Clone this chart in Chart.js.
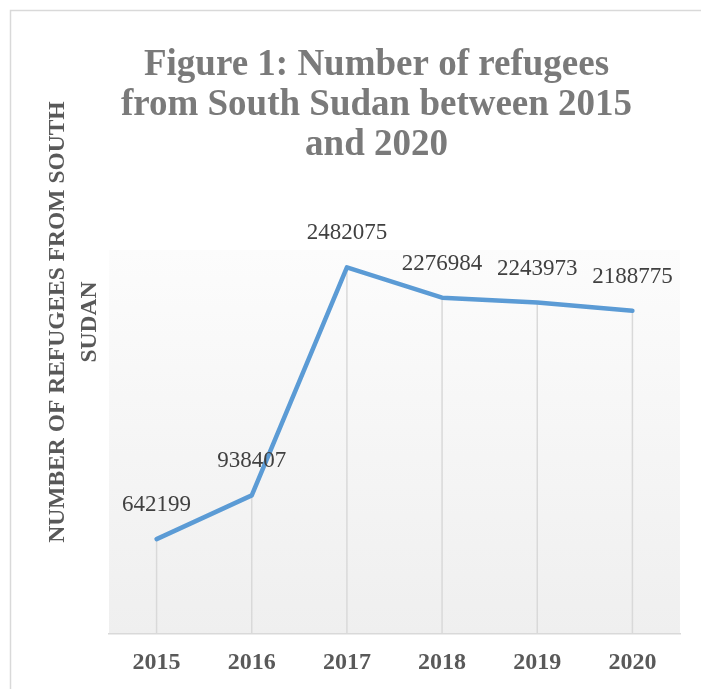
<!DOCTYPE html>
<html>
<head>
<meta charset="utf-8">
<script src="https://cdn.jsdelivr.net/npm/chart.js@4"></script>
<style>
  html, body { margin: 0; padding: 0; background: #fff; }
  #wrap { width: 701px; height: 689px; position: relative; }
</style>
</head>
<body>
<div id="wrap"><canvas id="chart" width="701" height="689"></canvas></div>
<script>
// data
const years = ['2015', '2016', '2017', '2018', '2019', '2020'];
const refugees = [642199, 938407, 2482075, 2276984, 2243973, 2188775];
const titleLines = ['Figure 1: Number of refugees', 'from South Sudan between 2015', 'and 2020'];
const yTitleLines = ['NUMBER OF REFUGEES FROM SOUTH', 'SUDAN'];

const SERIF = '"Liberation Serif", "DejaVu Serif", serif';

// frame, gradient plot background, drop lines
const backdrop = {
  id: 'backdrop',
  beforeDraw(chart) {
    const {ctx, chartArea: a} = chart;
    ctx.save();
    ctx.fillStyle = '#fff';
    ctx.fillRect(0, 0, chart.width, chart.height);
    ctx.strokeStyle = '#d9d9d9';
    ctx.lineWidth = 1.5;
    ctx.beginPath();
    ctx.moveTo(10.5, chart.height + 5);
    ctx.lineTo(10.5, 10.5);
    ctx.lineTo(chart.width + 5, 10.5);
    ctx.stroke();
    const g = ctx.createLinearGradient(0, a.top, 0, a.bottom);
    g.addColorStop(0, '#fcfcfc');
    g.addColorStop(1, '#efefef');
    ctx.fillStyle = g;
    ctx.fillRect(a.left, a.top, a.right - a.left, a.bottom - a.top);
    ctx.restore();
  },
  beforeDatasetsDraw(chart) {
    const {ctx, chartArea: a} = chart;
    const pts = chart.getDatasetMeta(0).data;
    ctx.save();
    ctx.strokeStyle = '#d9d9d9';
    ctx.lineWidth = 1.5;
    pts.forEach(p => {
      ctx.beginPath();
      ctx.moveTo(p.x, p.y);
      ctx.lineTo(p.x, a.bottom);
      ctx.stroke();
    });
    ctx.restore();
  }
};

// title, rotated axis title, value labels
const texts = {
  id: 'texts',
  afterDatasetsDraw(chart) {
    const {ctx} = chart;
    ctx.save();
    ctx.textAlign = 'center';

    ctx.fillStyle = '#7a7a7a';
    ctx.font = 'bold 37px ' + SERIF;
    ctx.textBaseline = 'alphabetic';
    titleLines.forEach((t, i) => ctx.fillText(t, 376.5, 75 + i * 40));

    ctx.save();
    ctx.translate(0, 322);
    ctx.rotate(-Math.PI / 2);
    ctx.fillStyle = '#595959';
    ctx.font = 'bold 23.5px ' + SERIF;
    ctx.textBaseline = 'middle';
    yTitleLines.forEach((t, i) => ctx.fillText(t, 0, 57.5 + i * 32));
    ctx.restore();

    ctx.fillStyle = '#404040';
    ctx.font = '23px ' + SERIF;
    ctx.textBaseline = 'middle';
    chart.getDatasetMeta(0).data.forEach((p, i) => {
      ctx.fillText(String(refugees[i]), p.x, p.y - 34);
    });
    ctx.restore();
  }
};

new Chart(document.getElementById('chart').getContext('2d'), {
  type: 'line',
  data: {
    labels: years,
    datasets: [{
      data: refugees,
      borderColor: '#5b9bd5',
      borderWidth: 4.5,
      pointRadius: 0,
      tension: 0,
      fill: false,
      borderCapStyle: 'round',
      borderJoinStyle: 'round'
    }]
  },
  options: {
    responsive: false,
    animation: false,
    layout: {padding: {left: 109, right: 21, top: 250, bottom: 13}},
    scales: {
      x: {
        offset: true,
        grid: {display: false, drawTicks: false},
        border: {display: true, color: '#d9d9d9', width: 1.5},
        ticks: {color: '#595959', padding: 14, font: {family: SERIF, size: 24, weight: 'bold'}},
        afterFit(scale) { scale.height = 42; }
      },
      y: {
        display: false,
        min: 0,
        max: 2600000
      }
    },
    plugins: {
      legend: {display: false},
      tooltip: {enabled: false}
    }
  },
  plugins: [backdrop, texts]
});
</script>
</body>
</html>
